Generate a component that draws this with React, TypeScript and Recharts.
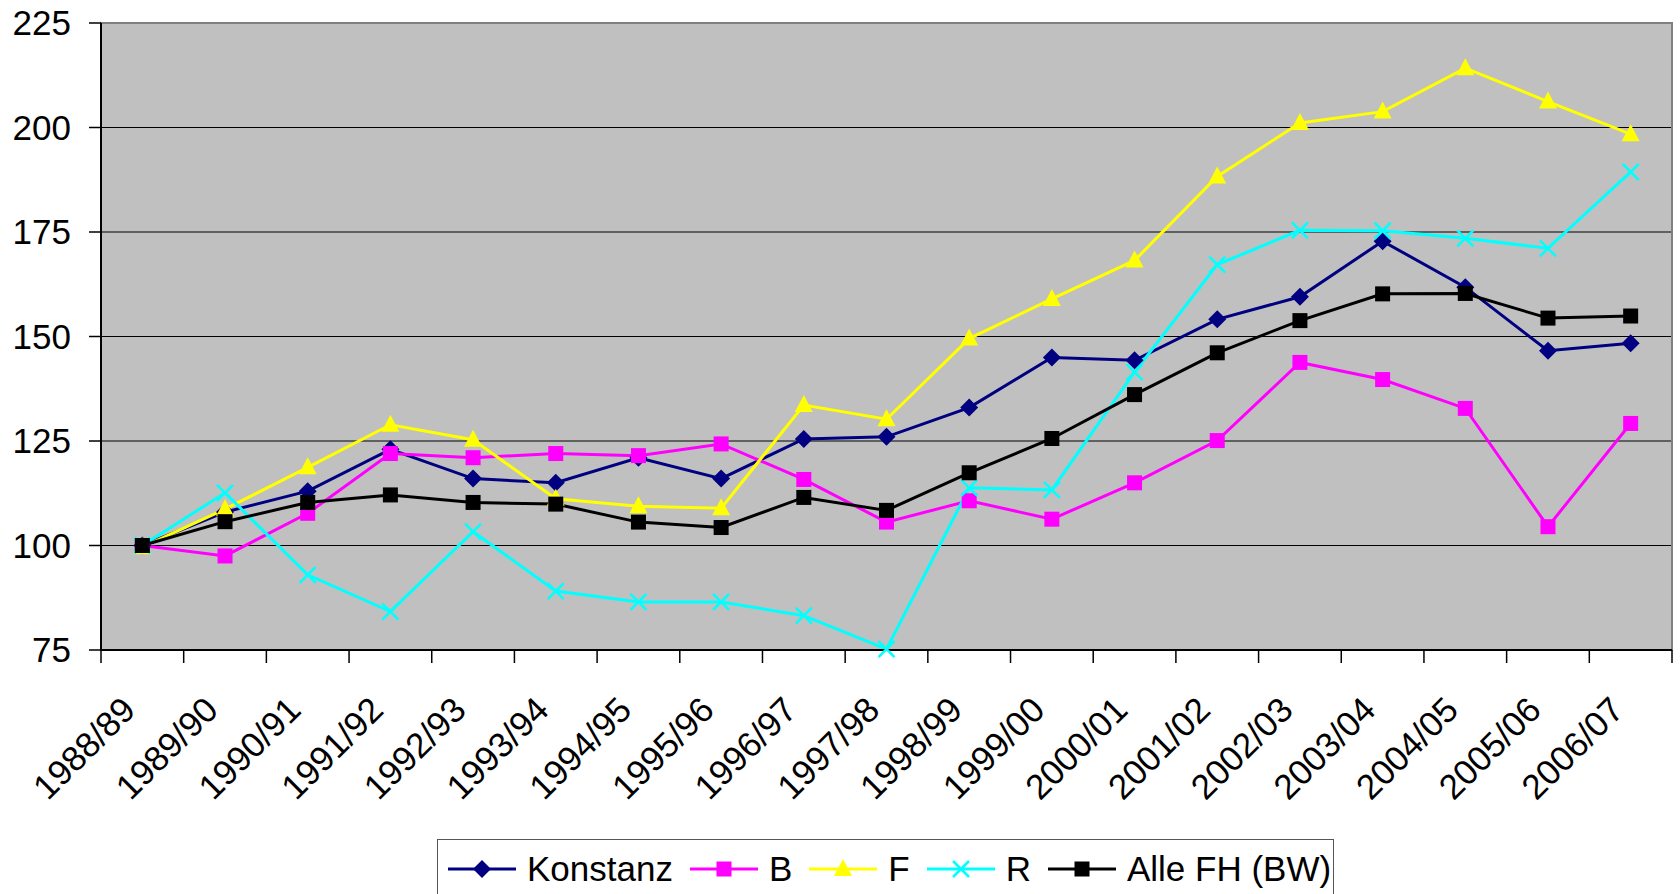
import { CartesianGrid, Legend, Line, LineChart, ReferenceArea, XAxis, YAxis } from "recharts";

const CATEGORIES = [
  "1988/89", "1989/90", "1990/91", "1991/92", "1992/93", "1993/94", "1994/95",
  "1995/96", "1996/97", "1997/98", "1998/99", "1999/00", "2000/01", "2001/02",
  "2002/03", "2003/04", "2004/05", "2005/06", "2006/07",
];

const KONSTANZ = [100, 108, 113, 123, 116, 115, 121, 116, 125.5, 126, 133, 145, 144.3, 154.1, 159.5, 172.8, 161.8, 146.6, 148.4];
const B = [100, 97.5, 107.7, 122, 121, 122, 121.5, 124.3, 115.8, 105.6, 110.7, 106.3, 115, 125.1, 143.8, 139.7, 132.8, 104.5, 129.2];
const F = [99.6, 108.7, 118.7, 128.9, 125.3, 111.2, 109.4, 108.9, 133.6, 130.2, 149.5, 159, 168.2, 188.3, 201.1, 203.8, 214.2, 206.2, 198.4];
const R = [100, 112.6, 93, 84.2, 103.3, 89.1, 86.5, 86.5, 83.2, 75.2, 113.8, 113.3, 141.5, 167.2, 175.4, 175.3, 173.5, 171.1, 189.4];
const ALLE = [100, 105.7, 110.3, 112.1, 110.3, 109.9, 105.6, 104.3, 111.5, 108.4, 117.4, 125.6, 136.1, 146.1, 153.8, 160.2, 160.3, 154.4, 154.9];

const Y_TICKS = [75, 100, 125, 150, 175, 200, 225];

const SERIES = [
  { key: "konstanz", name: "Konstanz", color: "#000080", marker: "diamond" },
  { key: "b", name: "B", color: "#FF00FF", marker: "square" },
  { key: "f", name: "F", color: "#FFFF00", marker: "triangle" },
  { key: "r", name: "R", color: "#00FFFF", marker: "cross" },
  { key: "alle", name: "Alle FH (BW)", color: "#000000", marker: "square" },
];

const data = CATEGORIES.map((c, i) => ({
  year: c,
  konstanz: KONSTANZ[i],
  b: B[i],
  f: F[i],
  r: R[i],
  alle: ALLE[i],
}));

const W = 1680;
const H = 894;
const PLOT_LEFT = 101;
const PLOT_RIGHT_MARGIN = 8;
const BAND = (W - PLOT_LEFT - PLOT_RIGHT_MARGIN) / CATEGORIES.length;
const FONT = "'Liberation Sans', Arial, sans-serif";

function Marker({ cx, cy, type, color }: { cx: number; cy: number; type: string; color: string }) {
  if (cx == null || cy == null) return null;
  if (type === "diamond") {
    return <polygon points={`${cx},${cy - 9} ${cx + 9},${cy} ${cx},${cy + 9} ${cx - 9},${cy}`} fill={color} />;
  }
  if (type === "square") {
    return <rect x={cx - 7.5} y={cy - 7.5} width={15} height={15} fill={color} />;
  }
  if (type === "triangle") {
    return <polygon points={`${cx},${cy - 10} ${cx + 9},${cy + 7} ${cx - 9},${cy + 7}`} fill={color} />;
  }
  return (
    <g stroke={color} strokeWidth={2.5}>
      <line x1={cx - 8} y1={cy - 8} x2={cx + 8} y2={cy + 8} />
      <line x1={cx - 8} y1={cy + 8} x2={cx + 8} y2={cy - 8} />
    </g>
  );
}

function XTick(props: any) {
  const { x, y, payload, index } = props;
  const half = BAND / 2;
  const ax = x - 5;
  const ay = y + 54;
  return (
    <g>
      <line x1={x - half} x2={x - half} y1={y - 8} y2={y + 5} stroke="#000" strokeWidth={1.5} />
      {index === CATEGORIES.length - 1 && (
        <line x1={x + half} x2={x + half} y1={y - 8} y2={y + 5} stroke="#000" strokeWidth={1.5} />
      )}
      <text
        x={ax}
        y={ay}
        transform={`rotate(-45 ${ax} ${ay})`}
        textAnchor="end"
        fontSize={35}
        fontFamily={FONT}
        fill="#000"
      >
        {payload.value}
      </text>
    </g>
  );
}

function LegendBox() {
  return (
    <div
      style={{
        boxSizing: "border-box",
        height: 60,
        border: "1px solid #555",
        display: "flex",
        alignItems: "center",
        paddingLeft: 10,
        fontFamily: FONT,
        fontSize: 35,
        color: "#000",
        whiteSpace: "nowrap",
      }}
    >
      {SERIES.map((s) => (
        <div key={s.key} style={{ display: "flex", alignItems: "center", marginRight: 17 }}>
          <svg width={68} height={24} style={{ marginRight: 11 }}>
            <line x1={0} x2={68} y1={12} y2={12} stroke={s.color} strokeWidth={3} />
            <Marker cx={34} cy={12} type={s.marker} color={s.color} />
          </svg>
          <span>{s.name}</span>
        </div>
      ))}
    </div>
  );
}

export default function App() {
  return (
    <div style={{ position: "absolute", left: 0, top: 0, width: W, height: H, overflow: "hidden", background: "#fff" }}>
      <LineChart width={W} height={H} data={data} margin={{ top: 23, right: PLOT_RIGHT_MARGIN, left: 0, bottom: 0 }}>
        <CartesianGrid vertical={false} stroke="#000" strokeWidth={1} fill="#C0C0C0" fillOpacity={1} />
        <ReferenceArea y1={75} y2={225} fill="none" stroke="#808080" strokeWidth={2} ifOverflow="visible" />
        <XAxis
          dataKey="year"
          scale="band"
          interval={0}
          height={184}
          tickLine={false}
          axisLine={{ stroke: "#000", strokeWidth: 2 }}
          tick={<XTick />}
        />
        <YAxis
          domain={[75, 225]}
          ticks={Y_TICKS}
          width={PLOT_LEFT}
          tickSize={12}
          tickMargin={18}
          axisLine={{ stroke: "#000", strokeWidth: 2 }}
          tickLine={{ stroke: "#000", strokeWidth: 1.5 }}
          tick={{ fontSize: 35, fontFamily: FONT, fill: "#000" }}
        />
        <Legend
          content={<LegendBox />}
          wrapperStyle={{ position: "absolute", top: 839, left: 437, width: 897, height: 60 }}
        />
        {SERIES.map((s) => (
          <Line
            key={s.key}
            dataKey={s.key}
            name={s.name}
            stroke={s.color}
            strokeWidth={3}
            isAnimationActive={false}
            dot={(p: any) => <Marker key={`${s.key}-${p.index}`} cx={p.cx} cy={p.cy} type={s.marker} color={s.color} />}
            activeDot={false}
          />
        ))}
      </LineChart>
    </div>
  );
}
